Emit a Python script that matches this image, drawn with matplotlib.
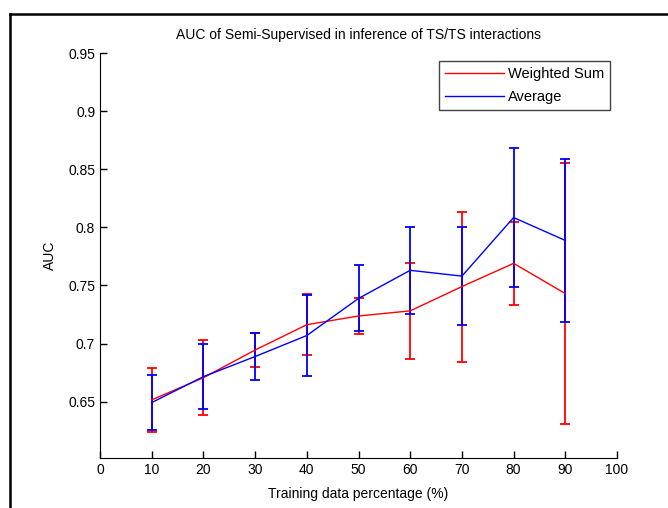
import matplotlib
matplotlib.use('Agg')
import matplotlib.pyplot as plt
from matplotlib.lines import Line2D

plt.rcParams['font.family'] = ['Liberation Sans', 'DejaVu Sans']

pct = [10, 20, 30, 40, 50, 60, 70, 80, 90]

# Weighted Sum: mean AUC and error half-width
ws_mean = [0.6515, 0.6706, 0.6944, 0.7162, 0.7237, 0.7281, 0.7490, 0.7690, 0.7430]
ws_err = [0.0272, 0.0323, 0.0149, 0.0260, 0.0153, 0.0411, 0.0645, 0.0358, 0.1120]

# Average
avg_mean = [0.6492, 0.6715, 0.6888, 0.7069, 0.7388, 0.7630, 0.7580, 0.8084, 0.7887]
avg_err = [0.0234, 0.0280, 0.0205, 0.0346, 0.0284, 0.0375, 0.0424, 0.0597, 0.0699]

xticks = [0, 10, 20, 30, 40, 50, 60, 70, 80, 90, 100]
yticks = [0.65, 0.7, 0.75, 0.8, 0.85, 0.9, 0.95]
ytick_labels = ['0.65', '0.7', '0.75', '0.8', '0.85', '0.9', '0.95']

fig = plt.figure(figsize=(6.68, 5.08), dpi=100)
ax = fig.add_axes([100 / 668, 50 / 508, 517 / 668, 405 / 508])

ax.errorbar(pct, ws_mean, yerr=ws_err, color='red', lw=1, elinewidth=1.3,
            capsize=3.5, capthick=1.3, label='Weighted Sum')
ax.errorbar(pct, avg_mean, yerr=avg_err, color='blue', lw=1, elinewidth=1.3,
            capsize=3.5, capthick=1.3, label='Average')

ax.set_xlim(0, 100)
ax.set_ylim(0.6015, 0.95)
ax.set_xticks(xticks)
ax.set_yticks(yticks)
ax.set_yticklabels(ytick_labels)
ax.tick_params(direction='in', length=5, labelsize=10, width=1)
ax.spines['top'].set_visible(False)
ax.spines['right'].set_visible(False)

ax.set_title('AUC of Semi-Supervised in inference of TS/TS interactions',
             fontsize=10, pad=10)
ax.set_xlabel('Training data percentage (%)', fontsize=10, labelpad=7)
ax.set_ylabel('AUC', fontsize=10, labelpad=8)

# legend with plain lines (no error bar glyphs)
handles = [Line2D([], [], color='red', lw=1), Line2D([], [], color='blue', lw=1)]
leg = ax.legend(handles, ['Weighted Sum', 'Average'], loc='upper right',
                bbox_to_anchor=(0.9865, 0.98), borderaxespad=0, fancybox=False,
                framealpha=1, edgecolor='#444444', fontsize=10.5, handlelength=4.0,
                handletextpad=0.3, labelspacing=0.6, borderpad=0.4)
leg.get_frame().set_linewidth(1)

# black frame of the screenshot at left and top
fig.add_artist(Line2D([10 / 668, 10 / 668], [0, 1 - 13.5 / 508], color='black',
                      lw=1.8, transform=fig.transFigure))
fig.add_artist(Line2D([10 / 668, 1], [1 - 13.5 / 508, 1 - 13.5 / 508], color='black',
                      lw=1.8, transform=fig.transFigure))

fig.savefig('out.png', dpi=100)
